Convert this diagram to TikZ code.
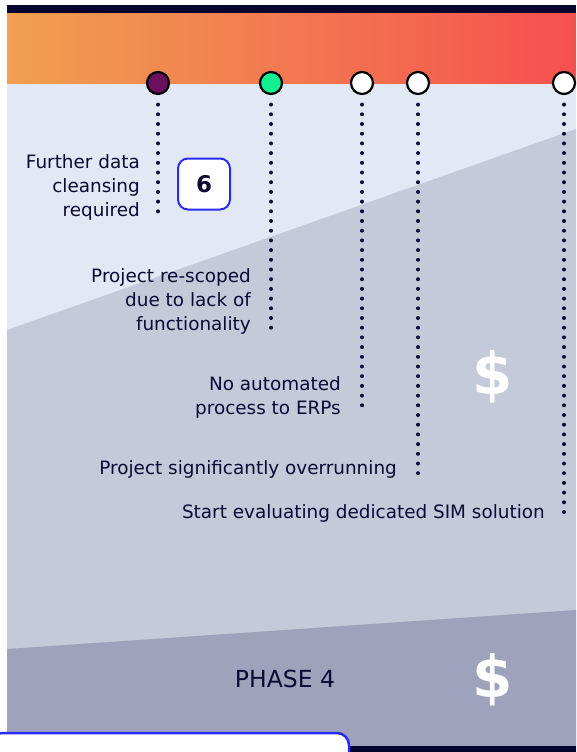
\documentclass[tikz,border=0pt]{standalone}
\usepackage{fontspec}
\setmainfont{DejaVu Sans}
\definecolor{navy}{HTML}{0A0A35}
\definecolor{bandnavy}{HTML}{05052E}
\definecolor{lightbg}{HTML}{E3E9F4}
\definecolor{midbg}{HTML}{C4CAD9}
\definecolor{darkbg}{HTML}{9EA2BA}
\definecolor{gradL}{HTML}{F0A050}
\definecolor{gradR}{HTML}{F55050}
\definecolor{boxblue}{HTML}{2B2BF0}
\definecolor{mpurple}{HTML}{6B0F5F}
\definecolor{mgreen}{HTML}{12F08F}
\tikzset{
  milestone/.style={circle, draw=black, line width=2.2pt, minimum size=22pt, inner sep=0pt},
  dotline/.style={draw=navy, line width=4pt, line cap=round, dash pattern=on 0pt off 9.7pt},
  lbl/.style={anchor=east, align=right, text=navy, font=\fontsize{18.4}{24}\selectfont, inner sep=0pt},
  dollar/.style={text=white, font=\fontsize{58}{58}\selectfont\bfseries, inner sep=0pt}
}
\begin{document}
\begin{tikzpicture}[x=1pt,y=-1pt]
\useasboundingbox (0,0) rectangle (576,752);
\fill[white] (0,0) rectangle (576,752);
% backgrounds
\fill[lightbg] (7,83) rectangle (576,752);
\fill[midbg] (7,330) -- (576,129) -- (576,752) -- (7,752) -- cycle;
\fill[darkbg] (7,649) -- (576,610) -- (576,752) -- (7,752) -- cycle;
\fill[left color=gradL, right color=gradR] (7,13) rectangle (576,83);
\fill[bandnavy] (7,5) rectangle (576,13);
\fill[bandnavy] (349,746) rectangle (576,752);
% bottom box
\draw[boxblue, line width=2.5pt, fill=white, rounded corners=12pt] (-10,760) -- (-10,733) -- (349,733) -- (349,760);
% milestones
\node[milestone, fill=mpurple] (m1) at (158,83) {};
\node[milestone, fill=mgreen] (m2) at (271,83) {};
\node[milestone, fill=white] (m3) at (362,83) {};
\node[milestone, fill=white] (m4) at (418,83) {};
\node[milestone, fill=white] (m5) at (564,83) {};
\coordinate (e1) at (158,214);
\coordinate (e2) at (271,328);
\coordinate (e3) at (362,411);
\coordinate (e4) at (418,475);
\coordinate (e5) at (564,520);
\draw[dotline] ([yshift=-9.5pt]m1.south) -- (e1);
\draw[dotline] ([yshift=-9.5pt]m2.south) -- (e2);
\draw[dotline] ([yshift=-9.5pt]m3.south) -- (e3);
\draw[dotline] ([yshift=-9.5pt]m4.south) -- (e4);
\draw[dotline] ([yshift=-9.5pt]m5.south) -- (e5);
% labels
\node[lbl] (t1) at (140,187) {Further data\\cleansing\\required};
\node[lbl] (t2) at (251,301) {Project re-scoped\\due to lack of\\functionality};
\node[lbl] (t3) at (341,397) {No automated\\process to ERPs};
\node[lbl] (t4) at (397,469) {Project significantly overrunning};
\node[lbl] (t5) at (545,513) {Start evaluating dedicated SIM solution};
% number box
\node[draw=boxblue, line width=2pt, fill=white, rounded corners=10pt, minimum width=52pt, minimum height=51pt, inner sep=0pt, text=navy, font=\fontsize{23}{23}\selectfont\bfseries] (six) at (204,184) {6};
% dollars
\node[dollar] (d1) at (493,377) {\$};
\node[dollar] (d2) at (493,680) {\$};
% phase
\node[text=navy, font=\fontsize{23.5}{23.5}\selectfont, inner sep=0pt] (ph) at (285,679) {PHASE 4};
\end{tikzpicture}
\end{document}
